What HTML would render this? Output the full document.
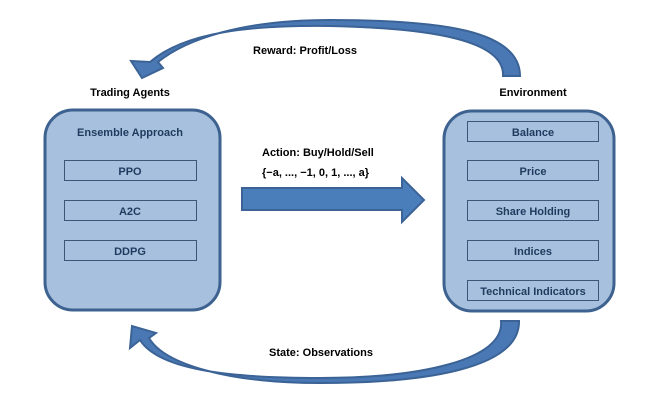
<!DOCTYPE html>
<html><head><style>
body{margin:0;background:#fff;}
svg text{font-family:"Liberation Sans",sans-serif;font-weight:bold;}
</style></head><body>
<svg width="664" height="402" viewBox="0 0 664 402" xmlns="http://www.w3.org/2000/svg">
<path d="M503 76 L520 76 C520 30 440 20 330 20 C240 20 185 40 158 62 L163 68 L142 78 L131 61 L150 62 C185 32 250 25 330 26 C430 28 505 40 503 76 Z" fill="#4a78b4" stroke="#3b6396" stroke-width="2"/>
<path d="M501 321 L519 321 C520 370 420 383 320 383 C230 383 165 365 149 338 L156 333 L132 326 L130 348 L140 340 C160 372 240 378 320 378 C420 378 505 360 501 321 Z" fill="#4a78b4" stroke="#3b6396" stroke-width="2"/>
<rect x="45" y="110" width="175" height="200" rx="28" fill="#a7c0de" stroke="#3e6290" stroke-width="3"/>
<rect x="444" y="111" width="170" height="200" rx="28" fill="#a7c0de" stroke="#3e6290" stroke-width="3"/>
<g fill="none" stroke="#3e5577" stroke-width="1">
<rect x="64.5" y="160.5" width="132" height="20"/>
<rect x="64.5" y="200.5" width="132" height="20"/>
<rect x="64.5" y="240.5" width="132" height="20"/>
<rect x="467.5" y="121.5" width="131" height="20"/>
<rect x="467.5" y="160.5" width="131" height="20"/>
<rect x="467.5" y="200.5" width="131" height="20"/>
<rect x="467.5" y="240.5" width="131" height="20"/>
<rect x="467.5" y="280.5" width="131" height="20"/>
</g>
<path d="M242 188 L402 188 L402 178 L424 200 L402 222 L402 210 L242 210 Z" fill="#4a7ebb" stroke="#3b6396" stroke-width="2"/>
<g font-size="11" fill="#1f3a5e" text-anchor="middle">
<text x="130" y="136">Ensemble Approach</text>
<text x="130" y="175">PPO</text>
<text x="130" y="215">A2C</text>
<text x="130" y="255">DDPG</text>
<text x="533" y="136">Balance</text>
<text x="533" y="175">Price</text>
<text x="533" y="215">Share Holding</text>
<text x="533" y="255">Indices</text>
<text x="533" y="295">Technical Indicators</text>
</g>
<g font-size="11" fill="#000">
<text x="130" y="96" text-anchor="middle">Trading Agents</text>
<text x="533" y="96" text-anchor="middle">Environment</text>
<text x="305" y="54" text-anchor="middle">Reward: Profit/Loss</text>
<text x="262" y="156">Action: Buy/Hold/Sell</text>
<text x="262" y="176">{−a, ..., −1, 0, 1, ..., a}</text>
<text x="321" y="356" text-anchor="middle">State: Observations</text>
</g>
</svg>
</body></html>
